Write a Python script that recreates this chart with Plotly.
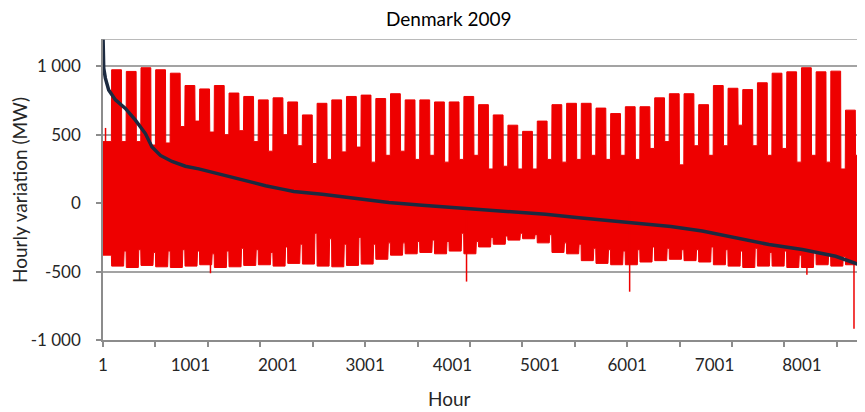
import plotly.graph_objects as go

# ---------------- data ----------------
title_text = "Denmark 2009"
x_title = "Hour"
y_title = "Hourly variation (MW)"

x_tick_vals = [1, 1001, 2001, 3001, 4001, 5001, 6001, 7001, 8001]
x_tick_text = ["1", "1001", "2001", "3001", "4001", "5001", "6001", "7001", "8001"]
y_tick_vals = [-1000, -500, 0, 500, 1000]
y_tick_text = ["-1 000", "-500", "0", "500", "1 000"]

# hourly variation: weekly envelope of the red series (MW)
# hours 1-96 (1-4 Jan) before the first full week
pre_top = 450
pre_low = -380
first_week_hour = 97          # first Monday of 2009
# top of weekday block per week
week_peak = [975, 963, 990, 975, 950, 860, 835, 860, 805, 780, 755, 770, 740,
             645, 730, 755, 780, 790, 765, 800, 755, 755, 740, 740, 780, 720,
             645, 570, 525, 600, 720, 730, 730, 695, 655, 705, 705, 770, 800,
             800, 720, 860, 840, 830, 880, 950, 960, 990, 960, 965, 680, 380]
# top of the weekend following each block
week_gap = [450, 450, 425, 440, 560, 600, 520, 500, 530, 450, 380, 500, 420,
            290, 320, 375, 410, 300, 350, 380, 320, 350, 300, 320, 350, 250,
            270, 250, 250, 320, 300, 320, 350, 320, 350, 320, 400, 450, 280,
            420, 350, 420, 570, 420, 350, 400, 300, 350, 300, 250, 350, 350]
# bottom of weekday block per week
week_low = [-460, -470, -455, -465, -470, -460, -450, -470, -465, -455, -450, -460, -440,
            -445, -460, -465, -455, -445, -410, -380, -370, -360, -370, -350, -370, -320,
            -300, -270, -260, -290, -360, -370, -420, -440, -450, -450, -430, -420, -410,
            -420, -430, -450, -460, -470, -460, -460, -470, -470, -450, -460, -450, -400]
# bottom during the weekend following each block
week_wlow = [-350, -340, -360, -350, -340, -350, -370, -350, -330, -340, -360, -320, -300,
             -220, -260, -300, -250, -300, -290, -290, -280, -270, -280, -220, -280, -250,
             -240, -220, -230, -230, -290, -300, -330, -340, -350, -340, -320, -330, -340,
             -340, -320, -340, -350, -330, -360, -350, -380, -360, -380, -390, -380, -380]
# single-hour spikes
spike_hours = [30, 1231, 4162, 6029, 8058, 8597, 8674]
spike_vals = [550, -512, -573, -647, -523, -917, 520]

# duration curve (sorted hourly variation)
dur_hours = [1, 9, 28, 66, 143, 257, 372, 486, 562, 658, 791, 944, 1097, 1288, 1478,
             1669, 1861, 2051, 2185, 2509, 2891, 3273, 3654, 4036, 4360, 4684, 5066,
             5448, 5829, 6211, 6500, 6860, 7242, 7624, 8005, 8387, 8711]
dur_vals = [1230, 988, 914, 828, 755, 693, 607, 509, 410, 349, 305, 270, 251, 219, 189,
            157, 128, 103, 86, 66, 34, 5, -15, -32, -44, -61, -81,
            -106, -130, -155, -170, -204, -253, -302, -339, -388, -462]

# ---------------- build the red band ----------------
RED = "#ee0000"
NAVY = "#1c2a40"
GRID = "#a3a3a3"
AXIS = "#8c8c8c"
TXT = "#262626"
FONT = "Lato, 'Open Sans', sans-serif"

ux, uy = [1], [pre_top]
lx, ly = [1], [pre_low]
prev_gap, prev_wlow = pre_top, pre_low
for k in range(len(week_peak)):
    s = first_week_hour + 168 * k
    ux += [s, s + 3, s + 115, s + 118]
    uy += [prev_gap, week_peak[k], week_peak[k], week_gap[k]]
    lx += [s, s + 3, s + 140, s + 146]
    ly += [prev_wlow, week_low[k], week_low[k], week_wlow[k]]
    prev_gap, prev_wlow = week_gap[k], week_wlow[k]

band_x = ux + lx[::-1]
band_y = uy + ly[::-1]

spx, spy = [], []
for h, v in zip(spike_hours, spike_vals):
    spx += [h, h, None]
    spy += [0, v, None]

fig = go.Figure()
fig.add_trace(go.Scatter(x=band_x, y=band_y, mode="lines", fill="toself",
                         fillcolor=RED, line=dict(color=RED, width=1),
                         hoverinfo="skip", showlegend=False))
fig.add_trace(go.Scatter(x=spx, y=spy, mode="lines",
                         line=dict(color=RED, width=1.5), showlegend=False))
fig.add_trace(go.Scatter(x=dur_hours, y=dur_vals, mode="lines",
                         line=dict(color=NAVY, width=3.5), showlegend=False))

# the page body has an 8px margin; the figure is sized to fill the rest
OFF = 8
W, H = 865 - OFF, 412 - OFF
L, R, T, B = 103 - OFF, 0, 39 - OFF, 72
pw, ph = W - L - R, H - T - B

def px_x(px):
    return (px - OFF - L) / pw

def px_y(py):
    return (H - B - (py - OFF)) / ph

fig.update_layout(
    width=W, height=H,
    margin=dict(l=L, r=R, t=T, b=B, pad=0),
    paper_bgcolor="white", plot_bgcolor="white",
    font=dict(family=FONT, size=17, color=TXT),
    showlegend=False,
    xaxis=dict(range=[1, 8723], showgrid=False, zeroline=False,
               showline=True, linecolor=AXIS, linewidth=1.5,
               tickmode="array", tickvals=x_tick_vals, ticktext=x_tick_text,
               ticks="", ticklabelstandoff=9,
               minor=dict(tick0=1, dtick=600, ticks="outside", ticklen=5,
                          tickcolor=AXIS, tickwidth=1.5, showgrid=False),
               tickfont=dict(size=17, color=TXT)),
    yaxis=dict(range=[-1000, 1200], showgrid=True, gridcolor=GRID, gridwidth=1.5,
               zeroline=False, showline=True, linecolor=AXIS, linewidth=1.5,
               tickmode="array", tickvals=y_tick_vals, ticktext=y_tick_text,
               ticks="outside", ticklen=5, tickcolor=AXIS, tickwidth=1.5,
               ticklabelstandoff=12, tickfont=dict(size=17, color=TXT)),
    shapes=[dict(type="line", xref="paper", yref="y", x0=0, x1=1, y0=1200, y1=1200,
                 line=dict(color=GRID, width=1.5))],
    annotations=[
        dict(text=title_text, xref="paper", yref="paper", x=px_x(449), y=px_y(18),
             showarrow=False, xanchor="center", yanchor="middle",
             font=dict(size=19, color="#000000", family=FONT)),
        dict(text=x_title, xref="paper", yref="paper", x=px_x(449), y=px_y(398),
             showarrow=False, xanchor="center", yanchor="middle",
             font=dict(size=19, color=TXT, family=FONT)),
        dict(text=y_title, xref="paper", yref="paper", x=px_x(19), y=px_y(190),
             showarrow=False, xanchor="center", yanchor="middle", textangle=-90,
             font=dict(size=19, color=TXT, family=FONT)),
    ],
)

fig.write_html("out.html")
